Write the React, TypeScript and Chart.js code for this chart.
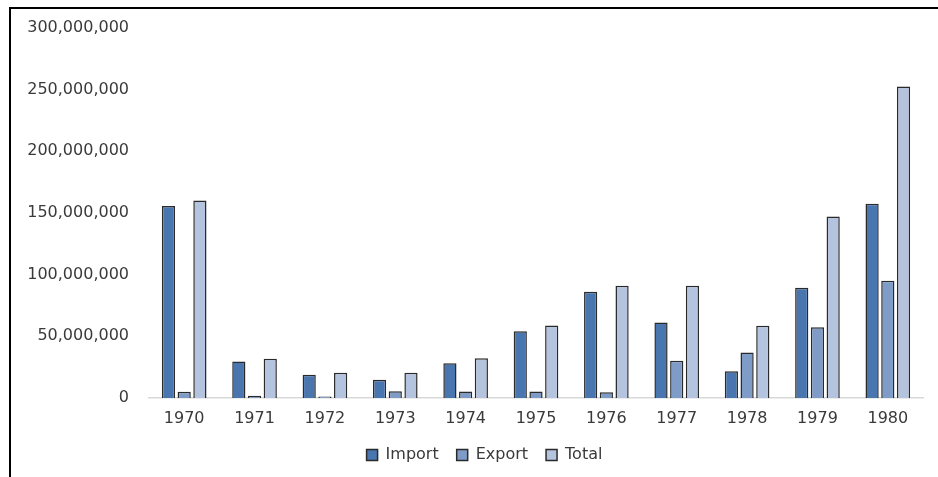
import React, { useEffect, useRef } from "react";
import { Chart, registerables } from "chart.js";

Chart.register(...registerables);

const categories = ["1970", "1971", "1972", "1973", "1974", "1975", "1976", "1977", "1978", "1979", "1980"];
const importValues = [155600000, 29600000, 18800000, 14800000, 28200000, 54200000, 86100000, 61200000, 21700000, 89400000, 157500000];
const exportValues = [5000000, 1800000, 1200000, 5500000, 5300000, 5300000, 4700000, 30200000, 36900000, 57400000, 95100000];
const totalValues = [160200000, 31800000, 20400000, 20400000, 32300000, 58800000, 91000000, 91000000, 58600000, 147200000, 252600000];
const seriesNames = ["Import", "Export", "Total"];
const yMax = 300000000;
const yStep = 50000000;

const FONT = "'DejaVu Sans', sans-serif";
const TEXT = "#3a3a3a";

const legendShift = {
  id: "legendShift",
  afterLayout(chart: any) {
    if (chart.legend) {
      chart.legend.left += 13;
      chart.legend.right += 13;
    }
  },
};

export default function App() {
  const ref = useRef<HTMLCanvasElement | null>(null);

  useEffect(() => {
    if (!ref.current) return;
    const chart = new Chart(ref.current, {
      type: "bar",
      data: {
        labels: categories,
        datasets: [
          { label: seriesNames[0], data: importValues, backgroundColor: "#4a76b0", borderColor: "#2a2a2a", borderWidth: 1.5 },
          { label: seriesNames[1], data: exportValues, backgroundColor: "#7f9cc8", borderColor: "#2a2a2a", borderWidth: 1.5 },
          { label: seriesNames[2], data: totalValues, backgroundColor: "#b4c3de", borderColor: "#2a2a2a", borderWidth: 1.5 },
        ],
      },
      plugins: [legendShift],
      options: {
        responsive: false,
        animation: false,
        layout: { padding: { top: 28, left: 20, right: 15, bottom: 4 } },
        datasets: { bar: { categoryPercentage: 0.67, barPercentage: 0.84 } },
        plugins: {
          tooltip: { enabled: false },
          legend: {
            position: "bottom",
            labels: {
              font: { family: FONT, size: 16 },
              color: TEXT,
              boxWidth: 11,
              boxHeight: 11,
              padding: 18,
            },
          },
        },
        scales: {
          x: {
            grid: { display: false },
            border: { display: true, color: "#d9d9d9", width: 1.5 },
            ticks: { font: { family: FONT, size: 16 }, color: TEXT, padding: 3, maxRotation: 0 },
            afterFit: (s: any) => { s.height = 31; },
          },
          y: {
            min: 0,
            max: yMax,
            grid: { display: false },
            border: { display: false },
            ticks: {
              stepSize: yStep,
              font: { family: FONT, size: 16 },
              color: TEXT,
              padding: 12,
              callback: (v: any) => Number(v).toLocaleString("en-US"),
            },
            afterFit: (s: any) => { s.width = 129; },
          },
        },
      },
    });
    return () => chart.destroy();
  }, []);

  return (
    <div style={{ position: "fixed", left: 0, top: 0, width: 938, height: 477, background: "#fff" }}>
      <canvas ref={ref} width={938} height={477} style={{ position: "absolute", left: 0, top: 0, width: 938, height: 477 }} />
      <div style={{ position: "absolute", left: 9, top: 7, right: 0, bottom: 0, borderTop: "2px solid #000", borderLeft: "2px solid #000", pointerEvents: "none" }} />
    </div>
  );
}
